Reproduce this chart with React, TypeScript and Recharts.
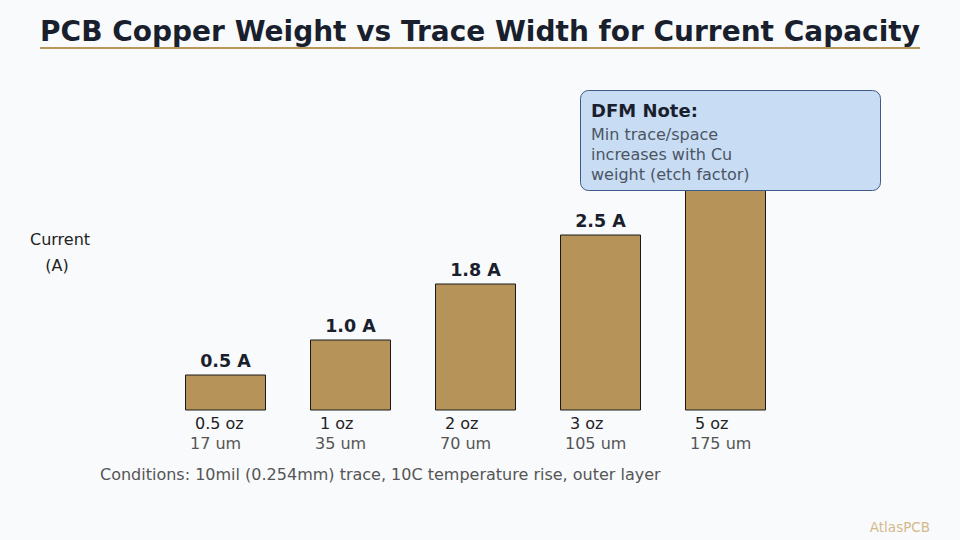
import React from 'react';
import { Bar, BarChart, LabelList, XAxis, YAxis } from 'recharts';

const weights = ['0.5 oz', '1 oz', '2 oz', '3 oz', '5 oz'];
const thickness = ['17 um', '35 um', '70 um', '105 um', '175 um'];
const currents = [0.5, 1.0, 1.8, 2.5, 4.0];

const noteLines = ['Min trace/space', 'increases with Cu', 'weight (etch factor)'];

const data = weights.map((w, i) => ({ weight: w, thick: thickness[i], current: currents[i] }));

const FONT = '"DejaVu Sans", Verdana, sans-serif';

const WeightTick = (props: any) => {
   const { x, y, payload, index } = props;
   return (
      <g>
         <text x={x - 30} y={y + 11} fontSize={16} fill="#222" fontFamily={FONT}>
            {payload.value}
         </text>
         <text x={x - 35} y={y + 31} fontSize={16} fill="#555" fontFamily={FONT}>
            {thickness[index]}
         </text>
      </g>
   );
};

const App: React.FC = () => {
   return (
      <div style={{ position: 'absolute', left: 0, top: 0, width: 960, height: 540, background: '#f8fafc', fontFamily: FONT }}>
         <BarChart width={960} height={540} data={data} margin={{ top: 60, right: 172.5, left: 162.5, bottom: 100 }}>
            <XAxis dataKey="weight" axisLine={false} tickLine={false} height={30} tick={<WeightTick />} interval={0} />
            <YAxis hide domain={[0, 5]} />
            <Bar dataKey="current" barSize={80} fill="#b69358" stroke="#1a1a1a" strokeWidth={1} isAnimationActive={false}>
               <LabelList
                  dataKey="current"
                  position="top"
                  offset={8}
                  formatter={(v: any) => `${Number(v).toFixed(1)} A`}
                  style={{ fontSize: 17.5, fontWeight: 700, fill: '#1a1f2e', fontFamily: FONT }}
               />
            </Bar>
         </BarChart>

         <svg width={960} height={540} style={{ position: 'absolute', left: 0, top: 0, pointerEvents: 'none' }}>
            <text x={480} y={41} textAnchor="middle" fontSize={28} fontWeight={700} fill="#1a1f2e" fontFamily={FONT}>
               PCB Copper Weight vs Trace Width for Current Capacity
            </text>
            <line x1={40} x2={920} y1={48} y2={48} stroke="#b8965a" strokeWidth={2} />

            <text x={60} y={245} textAnchor="middle" fontSize={16} fill="#222" fontFamily={FONT}>
               Current
            </text>
            <text x={57} y={271} textAnchor="middle" fontSize={16} fill="#222" fontFamily={FONT}>
               (A)
            </text>

            <text x={100} y={480} fontSize={16} fill="#555" fontFamily={FONT}>
               Conditions: 10mil (0.254mm) trace, 10C temperature rise, outer layer
            </text>

            <text x={930} y={532} textAnchor="end" fontSize={13.5} fill="#d4b98a" fontFamily={FONT}>
               AtlasPCB
            </text>

            <rect x={580.5} y={90.5} width={300} height={100} rx={8} fill="#c8dcf4" stroke="#3d5a8a" strokeWidth={1} />
            <text x={591} y={117} fontSize={18} fontWeight={700} fill="#1a1f2e" fontFamily={FONT}>
               DFM Note:
            </text>
            {noteLines.map((l, i) => (
               <text key={l} x={591} y={140 + i * 20} fontSize={16} fill="#4b5563" fontFamily={FONT}>
                  {l}
               </text>
            ))}
         </svg>
      </div>
   );
};

export default App;
